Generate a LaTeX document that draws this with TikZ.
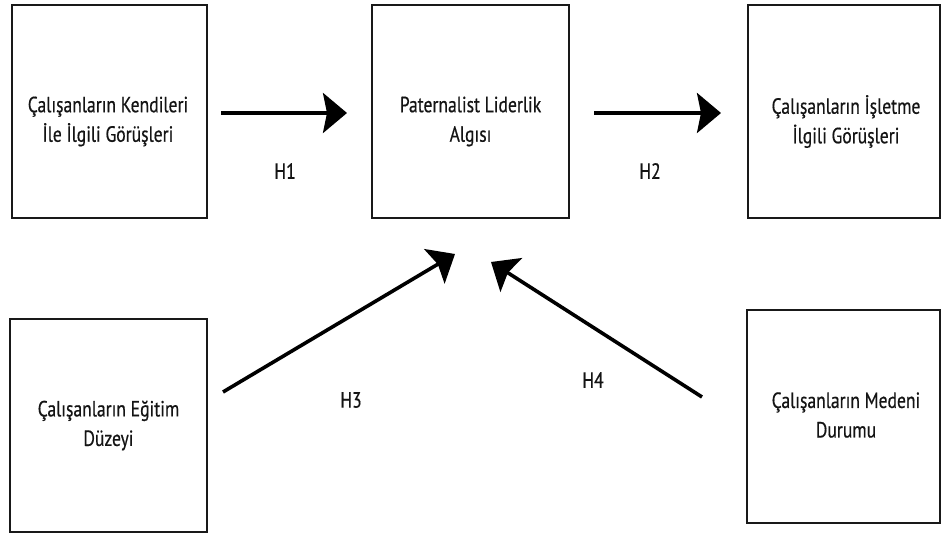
\documentclass[tikz,border=0pt]{standalone}
\usepackage{fontspec}
\setmainfont{PT Sans}[FakeStretch=0.8,FakeBold=0.5]
\usetikzlibrary{arrows.meta}
\begin{document}
\begin{tikzpicture}[x=1pt,y=-1pt,
  box/.style={draw=black!90, line width=2pt, inner sep=0pt},
  txt/.style={align=center, inner sep=0pt, text=black!92, font=\fontsize{22}{29.5}\selectfont},
  hyp/.style={inner sep=0pt, text=black!92, font=\fontsize{22}{29.5}\selectfont},
  arr/.style={line width=3.6pt, draw=black, -{Stealth[length=24pt,width=40pt,inset=4pt]}}
]
\useasboundingbox (0,0) rectangle (942,534);

% concept boxes
\node[box, minimum width=195pt, minimum height=213pt] (a) at (109.5,111.5) {};
\node[box, minimum width=197pt, minimum height=213pt] (b) at (470.5,111.5) {};
\node[box, minimum width=192pt, minimum height=213pt] (c) at (844,111.5) {};
\node[box, minimum width=197pt, minimum height=213pt] (d) at (108.5,425.5) {};
\node[box, minimum width=193pt, minimum height=213pt] (e) at (843.5,416.5) {};

% box captions
\node[txt] (ta) at (108,121.5) {Çalışanların Kendileri\\İle İlgili Görüşleri};
\node[txt] (tb) at (470.5,121.5) {Paternalist Liderlik\\Algısı};
\node[txt] (tc) at (846,121.5) {Çalışanların İşletme\\İlgili Görüşleri};
\node[txt] (td) at (108.5,425.5) {Çalışanların Eğitim\\Düzeyi};
\node[txt] (te) at (846,415) {Çalışanların Medeni\\Durumu};

% hypothesis paths
\draw[arr] ([shift={(13,1.5)}]a.east) -- ([shift={(-24,1.5)}]b.west);
\draw[arr] ([shift={(24,1.5)}]b.east) -- ([shift={(-26,1.5)}]c.west);
\draw[arr] ([shift={(15,74)}]d.north east) -- ([shift={(-15.5,35)}]b.south);
\draw[arr] ([shift={(-44,88)}]e.north west) -- ([shift={(20.5,43)}]b.south);

% hypothesis labels
\node[hyp] (h1) at (285,171) {H1};
\node[hyp] (h2) at (650,171) {H2};
\node[hyp] (h3) at (351,400) {H3};
\node[hyp] (h4) at (593,380) {H4};
\end{tikzpicture}
\end{document}
